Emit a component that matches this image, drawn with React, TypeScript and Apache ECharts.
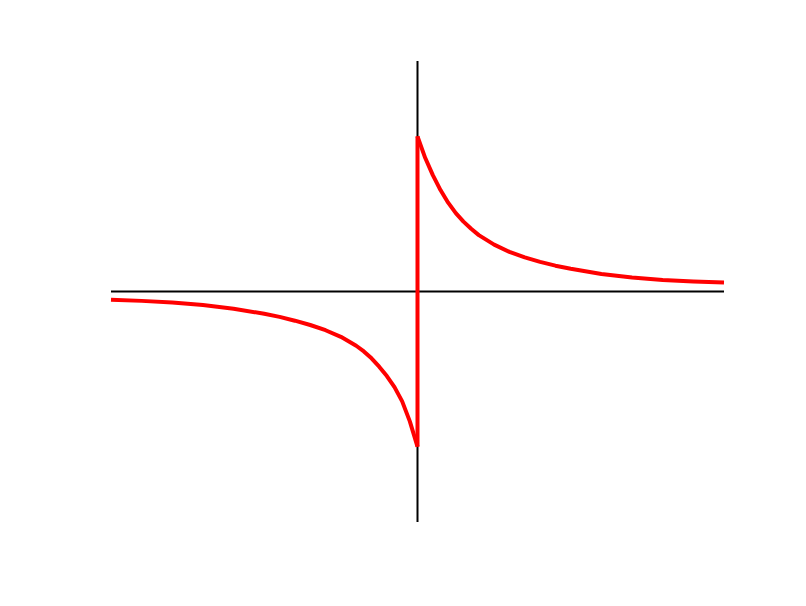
import React, { useEffect, useRef } from "react";
import * as echarts from "echarts";

const xRight = [0, 0.25, 0.5, 0.75, 1, 1.25, 1.5, 1.75, 2, 2.5, 3, 3.5, 4, 4.5, 5, 6, 7, 8, 9, 10];
const yRight = [1.01, 0.87, 0.757, 0.66, 0.578, 0.51, 0.455, 0.408, 0.367, 0.305, 0.258, 0.222, 0.193, 0.168, 0.148, 0.114, 0.091, 0.075, 0.065, 0.058];
const xLeft = [-10, -9, -8, -7, -6, -5, -4.5, -4, -3.5, -3, -2.5, -2, -1.75, -1.5, -1.25, -1, -0.75, -0.5, -0.25, 0];
const yLeft = [-0.053, -0.061, -0.072, -0.088, -0.112, -0.145, -0.165, -0.19, -0.218, -0.252, -0.295, -0.353, -0.39, -0.435, -0.489, -0.55, -0.622, -0.715, -0.845, -1.01];
const jumpX = [0, 0];
const jumpY = [-1.01, 1.01];
const hAxisX = [-10, 10];
const hAxisY = [0, 0];
const vAxisX = [0, 0];
const vAxisY = [-1.5, 1.5];

const zip = (xs: number[], ys: number[]) => xs.map((x, i) => [x, ys[i]]);

export default function App() {
  const ref = useRef<HTMLDivElement>(null);
  useEffect(() => {
    if (!ref.current) return;
    const chart = echarts.init(ref.current, undefined, { renderer: "svg" });
    const black = { color: "#000", width: 2 };
    const red = { color: "#ff0000", width: 4, join: "round", cap: "butt" };
    chart.setOption({
      animation: false,
      backgroundColor: "#fff",
      grid: { left: 111, top: 61, width: 613, height: 461 },
      xAxis: { type: "value", min: -10, max: 10, show: false },
      yAxis: { type: "value", min: -1.5, max: 1.5, show: false },
      series: [
        { type: "line", data: zip(hAxisX, hAxisY), showSymbol: false, lineStyle: black, z: 1 },
        { type: "line", data: zip(vAxisX, vAxisY), showSymbol: false, lineStyle: black, z: 1 },
        { type: "line", data: zip(xLeft, yLeft), showSymbol: false, lineStyle: red, z: 2 },
        { type: "line", data: zip(jumpX, jumpY), showSymbol: false, lineStyle: red, z: 2 },
        { type: "line", data: zip(xRight, yRight), showSymbol: false, lineStyle: red, z: 2 },
      ],
    });
    return () => chart.dispose();
  }, []);
  return <div ref={ref} style={{ position: "fixed", left: 0, top: 0, width: 806, height: 606 }} />;
}
